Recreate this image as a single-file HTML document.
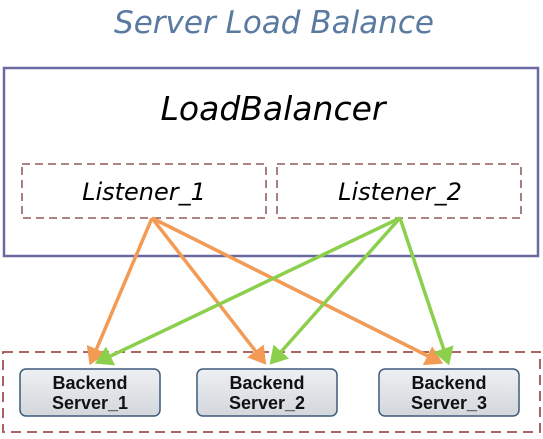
<!DOCTYPE html>
<html><head><style>
body{margin:0;width:543px;height:434px;background:#fff;overflow:hidden}
</style></head><body>
<svg width="543" height="434" xmlns="http://www.w3.org/2000/svg" font-family="'DejaVu Sans','Liberation Sans',sans-serif">
<defs>
<marker id="ao" markerWidth="6" markerHeight="6" refX="4" refY="3" orient="auto" markerUnits="strokeWidth"><path d="M0,0 L5,3 L0,6 z" fill="#f39a55"/></marker>
<marker id="ag" markerWidth="6" markerHeight="6" refX="4" refY="3" orient="auto" markerUnits="strokeWidth"><path d="M0,0 L5,3 L0,6 z" fill="#8ccf4d"/></marker>
<linearGradient id="bg" x1="0" y1="0" x2="0" y2="1"><stop offset="0" stop-color="#eef0f3"/><stop offset="1" stop-color="#d3d6db"/></linearGradient>
</defs>
<text x="274" y="33" font-size="31" font-style="italic" fill="#5a7aa2" text-anchor="middle">Server Load Balance</text>
<rect x="4" y="68" width="534" height="188" fill="#fff" stroke="#6a6aa0" stroke-width="2.5"/>
<text x="273" y="120" font-size="33" font-style="italic" fill="#000" text-anchor="middle">LoadBalancer</text>
<rect x="22" y="164" width="244" height="54" fill="none" stroke="#7a3a3a" stroke-width="1.3" stroke-dasharray="8,5"/>
<rect x="277" y="164" width="244" height="54" fill="none" stroke="#7a3a3a" stroke-width="1.3" stroke-dasharray="8,5"/>
<text x="144" y="200" font-size="24" font-style="italic" text-anchor="middle">Listener_1</text>
<text x="400" y="200" font-size="24" font-style="italic" text-anchor="middle">Listener_2</text>
<rect x="3" y="352" width="537" height="80" fill="none" stroke="#a05050" stroke-width="1.8" stroke-dasharray="10,6"/>
<g stroke-width="3.5" fill="none">
<line x1="152" y1="218" x2="91" y2="362" stroke="#f39a55" marker-end="url(#ao)"/>
<line x1="152" y1="218" x2="264" y2="362" stroke="#f39a55" marker-end="url(#ao)"/>
<line x1="152" y1="218" x2="440" y2="362" stroke="#f39a55" marker-end="url(#ao)"/>
<line x1="400" y1="218" x2="98" y2="362" stroke="#8ccf4d" marker-end="url(#ag)"/>
<line x1="400" y1="218" x2="272" y2="362" stroke="#8ccf4d" marker-end="url(#ag)"/>
<line x1="400" y1="218" x2="448" y2="362" stroke="#8ccf4d" marker-end="url(#ag)"/>
</g>
<g stroke="#3d5a7a" stroke-width="1.5" fill="url(#bg)">
<rect x="20" y="369" width="140" height="47" rx="6"/>
<rect x="197" y="369" width="140" height="47" rx="6"/>
<rect x="379" y="369" width="140" height="47" rx="6"/>
</g>
<g style="font-family:'Liberation Sans',Arial,sans-serif;font-weight:bold;font-size:18px" text-anchor="middle" fill="#111">
<text x="90" y="389">Backend</text><text x="90" y="409">Server_1</text>
<text x="267" y="389">Backend</text><text x="267" y="409">Server_2</text>
<text x="449" y="389">Backend</text><text x="449" y="409">Server_3</text>
</g>
</svg>
</body></html>
